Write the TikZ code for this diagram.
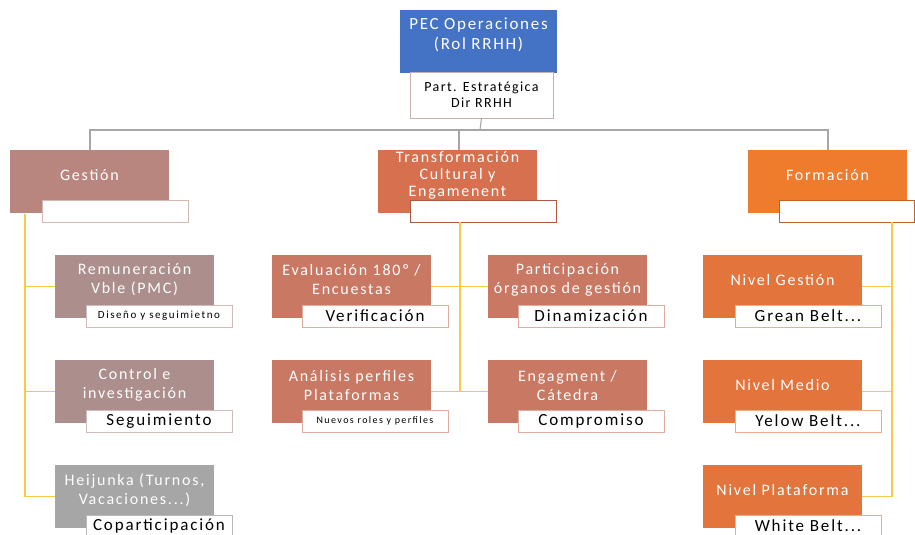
\documentclass[tikz,border=0pt]{standalone}
\usepackage{fontspec}
\setmainfont{Carlito}
\newfontfamily\boxfont[LetterSpace=11]{Carlito}
\newfontfamily\tagfont[LetterSpace=11]{Carlito}
\newfontfamily\rootfont[LetterSpace=10]{Carlito}
\newfontfamily\smallfont[LetterSpace=14]{Carlito}

\definecolor{topblue}{HTML}{4472C4}
\definecolor{gestcol}{HTML}{B8867F}
\definecolor{gestkid}{HTML}{AC8F8C}
\definecolor{heijcol}{HTML}{A6A6A6}
\definecolor{transcol}{HTML}{D6704F}
\definecolor{transkid}{HTML}{C97863}
\definecolor{formcol}{HTML}{EF7B2D}
\definecolor{formkid}{HTML}{E3743C}
\definecolor{treeline}{HTML}{A6A6A6}
\definecolor{branchline}{HTML}{F7C948}

\tikzset{
  x=1pt, y=-1pt,
  card/.style={anchor=north west, inner sep=0pt, outer sep=0pt,
    minimum width=159pt, minimum height=63pt},
  cardtext/.style={text=white, align=center, inner sep=0pt,
    font=\boxfont\fontsize{16}{19}\selectfont},
  tag/.style={anchor=north west, fill=white, draw=#1, line width=0.8pt,
    inner sep=0pt, outer sep=0pt, minimum width=146pt, minimum height=22pt,
    font=\tagfont\fontsize{17}{18}\selectfont},
  tiny/.style={font=\smallfont\fontsize{#1}{#1}\selectfont},
  grayline/.style={draw=treeline, line width=1.1pt},
  yelline/.style={draw=branchline, line width=1.6pt}
}

\begin{document}
\begin{tikzpicture}
\useasboundingbox[fill=white] (0,0) rectangle (915,535);

% ---- root ----
\node[card, fill=topblue, minimum width=157pt] (root) at (400,10) {};
\node[cardtext, font=\rootfont\fontsize{17}{20}\selectfont] (rootT) at ([yshift=7pt]root.center) {PEC Operaciones\\(Rol RRHH)};
\node[anchor=north west, fill=white, draw=gestkid!70, line width=0.8pt,
      minimum width=143pt, minimum height=46pt, inner sep=0pt, outer sep=0pt,
      align=center, font=\rootfont\fontsize{14}{16}\selectfont] (rootL) at (410,72)
      {Part. Estratégica\\Dir RRHH};

% ---- first level ----
\node[card, fill=gestcol] (gest) at (10,150) {};
\node[card, fill=transcol] (trans) at (378,150) {};
\node[card, fill=formcol] (form) at (748,150) {};

\node[cardtext] (gestT) at ([yshift=6.5pt]gest.center) {Gestión};
\node[cardtext, font=\boxfont\fontsize{16}{17}\selectfont] (transT) at ([yshift=6.5pt]trans.center) {Transformación\\Cultural y\\Engamenent};
\node[cardtext] (formT) at ([yshift=6.5pt]form.center) {Formación};

\node[tag=gestcol!60] (gestL) at (42,200) {};
\node[tag=transcol!80!black] (transL) at (410,200) {};
\node[tag=formcol!80!black, minimum width=135pt] (formL) at (779,200) {};

% connectors from the root
\coordinate (hub) at (480,130);
\draw[grayline] (rootL.south) -- (hub);
\draw[grayline] (gest.north -| 90,0) -- (90,130) -- (828,130) -- (form.north -| 828,0);
\draw[grayline] (trans.north -| 459,0) -- (459,130);

% ---- Gestión branch ----
\node[card, fill=gestkid] (remu) at (55,255) {};
\node[card, fill=gestkid] (ctrl) at (55,360) {};
\node[card, fill=heijcol] (heij) at (55,465) {};

\node[cardtext] (remuT) at ([yshift=6.5pt]remu.center) {Remuneración\\Vble (PMC)};
\node[cardtext] (ctrlT) at ([yshift=6.5pt]ctrl.center) {Control e\\investigación};
\node[cardtext] (heijT) at ([yshift=6.5pt]heij.center) {Heijunka (Turnos,\\Vacaciones...)};

\node[tag=gestkid!60, tiny=11] (remuL) at (86,305) {Diseño y seguimietno};
\node[tag=gestkid!60] (ctrlL) at (86,410) {Seguimiento};
\node[tag=heijcol!80] (heijL) at (86,515) {Coparticipación};

\coordinate (gv) at (25,214);
\draw[yelline] (gv) |- (remu.west);
\draw[yelline] (gv) |- (ctrl.west);
\draw[yelline] (gv) |- (heij.west);

% ---- Transformación branch ----
\node[card, fill=transkid] (eval) at (272,255) {};
\node[card, fill=transkid] (part) at (488,255) {};
\node[card, fill=transkid] (anal) at (272,360) {};
\node[card, fill=transkid] (enga) at (488,360) {};

\node[cardtext] (evalT) at ([yshift=6.5pt]eval.center) {Evaluación 180º /\\Encuestas};
\node[cardtext] (partT) at ([yshift=6.5pt]part.center) {Participación\\órganos de gestión};
\node[cardtext] (analT) at ([yshift=6.5pt]anal.center) {Análisis perfiles\\Plataformas};
\node[cardtext] (engaT) at ([yshift=6.5pt]enga.center) {Engagment /\\Cátedra};

\node[tag=transkid!60] (evalL) at (302,305) {Verificación};
\node[tag=transkid!60] (partL) at (518,305) {Dinamización};
\node[tag=transkid!60, tiny=10] (analL) at (302,410) {Nuevos roles y perfiles};
\node[tag=transkid!60] (engaL) at (518,410) {Compromiso};

\coordinate (tv) at (460,222);
\draw[yelline] (tv) -- (anal.east -| tv);
\draw[yelline] (eval.east) -- (part.west);
\draw[yelline] (anal.east) -- (enga.west);

% ---- Formación branch ----
\node[card, fill=formkid] (ngest) at (703,255) {};
\node[card, fill=formkid] (nmed) at (703,360) {};
\node[card, fill=formkid] (nplat) at (703,465) {};

\node[cardtext] (ngestT) at ([yshift=6.5pt]ngest.center) {Nivel Gestión};
\node[cardtext] (nmedT) at ([yshift=6.5pt]nmed.center) {Nivel Medio};
\node[cardtext] (nplatT) at ([yshift=6.5pt]nplat.center) {Nivel Plataforma};

\node[tag=formkid!60] (ngestL) at (735,305) {Grean Belt...};
\node[tag=formkid!60] (nmedL) at (735,410) {Yelow Belt...};
\node[tag=formkid!60] (nplatL) at (735,515) {White Belt...};

\coordinate (fv) at (892,222);
\draw[yelline] (fv) |- (ngest.east);
\draw[yelline] (fv) |- (nmed.east);
\draw[yelline] (fv) |- (nplat.east);

\end{tikzpicture}
\end{document}
